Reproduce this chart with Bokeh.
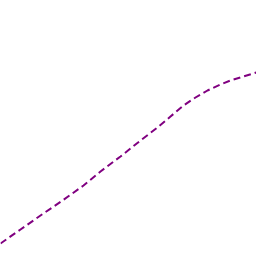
from bokeh.plotting import figure
from bokeh.models import Range1d
from bokeh.embed import file_html
from bokeh.resources import INLINE

xs = [0, 20, 40, 62, 83, 100, 120, 140, 157, 170, 183, 195, 207, 220, 230, 243, 256]
ys = [13, 27, 41, 56, 71, 85, 100, 116, 129, 140, 151, 159, 166, 172, 176, 180, 184]

p = figure(width=256, height=256, output_backend="svg", toolbar_location=None,
           x_range=Range1d(0, 256), y_range=Range1d(0, 256), min_border=0)
p.axis.visible = False
p.grid.visible = False
p.outline_line_color = None
p.background_fill_color = "white"
p.border_fill_color = "white"
p.line(xs, ys, line_color="#800080", line_width=2, line_dash="7 4")

open("out.html", "w").write(file_html(p, INLINE))
